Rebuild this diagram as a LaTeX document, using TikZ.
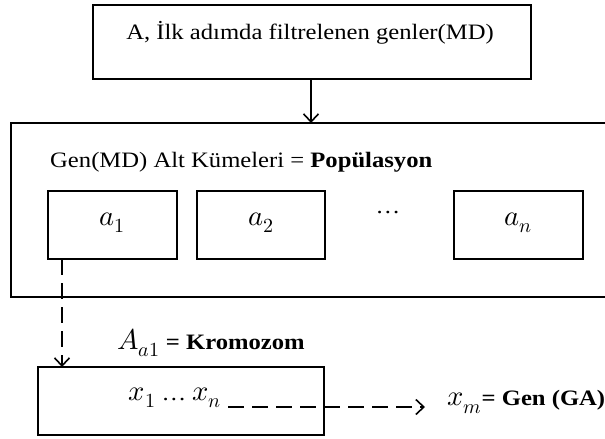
\documentclass[tikz,border=0pt]{standalone}
\usepackage{unicode-math}
\setmainfont{Liberation Serif}[FakeStretch=1.12]
\setmathfont{Latin Modern Math}[Scale=1.3]
\usetikzlibrary{arrows.meta,calc}
\begin{document}
\begin{tikzpicture}[x=1pt,y=-1pt,
  box/.style={draw, line width=1.5pt, inner sep=0pt, outer sep=0pt},
  lbl/.style={inner sep=0pt, font=\fontsize{22}{26}\selectfont},
  conn/.style={line width=1.8pt, -{Straight Barb[length=8pt,width=15pt,line width=1.6pt]}},
  dashconn/.style={conn, dash pattern=on 16pt off 8pt}]
  \useasboundingbox (0,0) rectangle (605,439);
  % first step box
  \node[box, minimum width=438, minimum height=74] (first) at (312,42) {};
  \node[lbl] (firsttext) at (310,33) {A, İlk adımda filtrelenen genler(MD)};
  % population frame (open to the right)
  \node[box, minimum width=620, minimum height=174] (pop) at (321,210) {};
  \node[lbl, anchor=west] (poptext) at (50,162) {Gen(MD) Alt Kümeleri = \textbf{Popülasyon}};
  \node[box, minimum width=129, minimum height=68] (a1) at (112.5,225) {};
  \node[box, minimum width=128, minimum height=68] (a2) at (261,225) {};
  \node[box, minimum width=129, minimum height=68] (an) at (518.5,225) {};
  \node[lbl] (a1t) at (112,223) {$a_1$};
  \node[lbl] (a2t) at (261,223) {$a_2$};
  \node[lbl] (dots) at (388,213) {…};
  \node[lbl] (ant) at (518,223) {$a_n$};
  % chromosome box
  \node[box, minimum width=286, minimum height=68] (krom) at (181,401) {};
  \node[lbl, anchor=west] (kromtext) at (117,343) {$A_{a1}$ \textbf{= Kromozom}};
  \node[lbl] (xs) at (175,398) {$x_1$ … $x_n$};
  \node[lbl, anchor=west] (gen) at (447,402) {$x_m$\textbf{= Gen (GA)}};
  % connectors
  \coordinate (dstart) at ($(a1.south west)+(14,0)$);
  \coordinate (hstart) at (228,407);
  \coordinate (hend) at (425,407);
  \draw[conn] (first.south -| 311,0) -- (pop.north -| 311,0);
  \draw[dashconn] (dstart) -- (dstart |- krom.north);
  \draw[dashconn] (hstart) -- (hend);
\end{tikzpicture}
\end{document}
